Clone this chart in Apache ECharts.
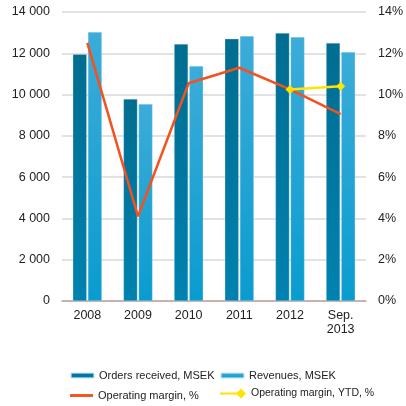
<!DOCTYPE html>
<html>
<head>
<meta charset="utf-8">
<script src="https://cdn.jsdelivr.net/npm/echarts@6/dist/echarts.min.js"></script>
<style>
  html, body { margin: 0; padding: 0; background: #fff; }
  #chart { width: 406px; height: 406px; }
</style>
</head>
<body>
<div id="chart"></div>
<script>
// data
const years = ['2008', '2009', '2010', '2011', '2012', 'Sep.\n2013'];
const ordersReceived = [11950, 9790, 12450, 12700, 12980, 12500];
const revenues = [13030, 9540, 11380, 12840, 12790, 12060];
const operatingMargin = [12.5, 4.1, 10.55, 11.3, 10.25, 9.05];
const operatingMarginYtd = [null, null, null, null, 10.25, 10.4];
const leftTicks = [0, 2000, 4000, 6000, 8000, 10000, 12000, 14000];
const rightTicks = [0, 2, 4, 6, 8, 10, 12, 14];

const chart = echarts.init(document.getElementById('chart'), null, { renderer: 'canvas' });

function grad(top, bottom) {
  return new echarts.graphic.LinearGradient(0, 0, 0, 1, [
    { offset: 0, color: top },
    { offset: 1, color: bottom }
  ]);
}

const fontFamily = 'Liberation Sans, Arial, sans-serif';
const legendText = { fontSize: 11, color: '#222', fontFamily: fontFamily };
const lineIcon = 'path://M0,0 L24,0 L24,3 L0,3 Z';
const ytdIcon = 'path://M0,4 L18,4 L18,6 L0,6 Z M21,0 L26,5 L21,10 L16,5 Z';

chart.setOption({
  animation: false,
  textStyle: { fontFamily: fontFamily },
  grid: { left: 62, right: 40, top: 12, bottom: 105 },
  legend: [
    { data: ['Orders received, MSEK'], left: 70, top: 370, padding: 0, itemWidth: 23, itemHeight: 5, textStyle: legendText },
    { data: ['Revenues, MSEK'], left: 220, top: 370, padding: 0, itemWidth: 23, itemHeight: 5, textStyle: legendText },
    { data: [{ name: 'Operating margin, %', icon: lineIcon }], left: 70, top: 390, padding: 0, itemWidth: 23, itemHeight: 3, textStyle: legendText },
    { data: [{ name: 'Operating margin, YTD, %', icon: ytdIcon }], left: 220, top: 388, padding: 0, itemWidth: 26, itemHeight: 10, textStyle: { fontSize: 10.5, color: '#222', fontFamily: fontFamily } }
  ],
  xAxis: {
    type: 'category',
    data: years,
    axisLine: { lineStyle: { color: '#c4a0a0', width: 1.5 } },
    axisTick: { show: false },
    axisLabel: { fontSize: 12.5, color: '#222', margin: 8, lineHeight: 14 }
  },
  yAxis: [
    {
      type: 'value',
      min: leftTicks[0],
      max: leftTicks[leftTicks.length - 1],
      interval: 2000,
      axisLine: { show: false },
      axisTick: { show: false },
      axisLabel: {
        fontSize: 12.5, color: '#222', margin: 12,
        formatter: v => String(v).replace(/\B(?=(\d{3})+$)/g, ' ')
      },
      splitLine: { lineStyle: { color: '#d9d9d9', width: 1.5 } }
    },
    {
      type: 'value',
      min: rightTicks[0],
      max: rightTicks[rightTicks.length - 1],
      interval: 2,
      position: 'right',
      axisLine: { show: false },
      axisTick: { show: false },
      axisLabel: { fontSize: 12.5, color: '#222', margin: 12, formatter: '{value}%' },
      splitLine: { show: false }
    }
  ],
  series: [
    {
      name: 'Orders received, MSEK',
      type: 'bar',
      data: ordersReceived,
      barWidth: 14,
      barGap: '8%',
      itemStyle: { color: grad('#006d90', '#0082b0'), borderColor: 'rgba(200,230,245,0.6)', borderWidth: 0.5 }
    },
    {
      name: 'Revenues, MSEK',
      type: 'bar',
      data: revenues,
      barWidth: 14,
      itemStyle: { color: grad('#3cacd9', '#0a9ccf'), borderColor: 'rgba(200,230,245,0.6)', borderWidth: 0.5 }
    },
    {
      name: 'Operating margin, %',
      type: 'line',
      yAxisIndex: 1,
      data: operatingMargin,
      symbol: 'none',
      lineStyle: { color: '#f4511e', width: 2.5 },
      itemStyle: { color: '#f4511e' }
    },
    {
      name: 'Operating margin, YTD, %',
      type: 'line',
      yAxisIndex: 1,
      data: operatingMarginYtd,
      symbol: 'diamond',
      symbolSize: 9,
      lineStyle: { color: '#ffe400', width: 2.5 },
      itemStyle: { color: '#ffe400' }
    }
  ]
});
</script>
</body>
</html>
